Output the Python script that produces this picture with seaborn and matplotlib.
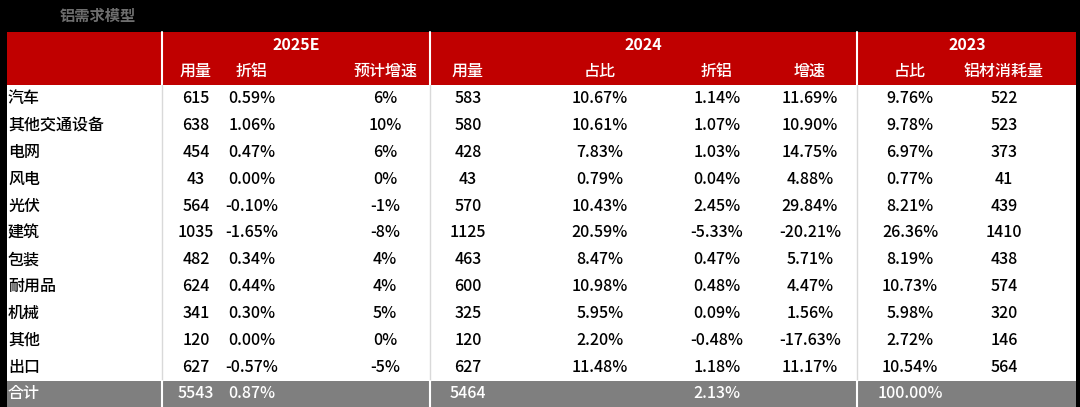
import matplotlib
matplotlib.use("Agg")
import matplotlib.pyplot as plt
from matplotlib import font_manager as fm
from matplotlib.patches import Rectangle
import seaborn as sns

cjk = sorted({f.name for f in fm.fontManager.ttflist if "CJK" in f.name})
fams = ["Noto Sans CJK SC"] + cjk + ["DejaVu Sans"]
sns.set_theme(style="white")
plt.rcParams["font.family"] = "sans-serif"
plt.rcParams["font.sans-serif"] = fams
plt.rcParams["axes.unicode_minus"] = False

title = "铝需求模型"
groups = ["2025E", "2024", "2023"]
sub_headers = ["用量", "折铝", "预计增速", "用量", "占比", "折铝", "增速", "占比", "铝材消耗量"]
categories = ["汽车", "其他交通设备", "电网", "风电", "光伏", "建筑", "包装", "耐用品", "机械", "其他", "出口"]
use_2025 = ["615", "638", "454", "43", "564", "1035", "482", "624", "341", "120", "627"]
zl_2025 = ["0.59%", "1.06%", "0.47%", "0.00%", "-0.10%", "-1.65%", "0.34%", "0.44%", "0.30%", "0.00%", "-0.57%"]
growth_2025 = ["6%", "10%", "6%", "0%", "-1%", "-8%", "4%", "4%", "5%", "0%", "-5%"]
use_2024 = ["583", "580", "428", "43", "570", "1125", "463", "600", "325", "120", "627"]
share_2024 = ["10.67%", "10.61%", "7.83%", "0.79%", "10.43%", "20.59%", "8.47%", "10.98%", "5.95%", "2.20%", "11.48%"]
zl_2024 = ["1.14%", "1.07%", "1.03%", "0.04%", "2.45%", "-5.33%", "0.47%", "0.48%", "0.09%", "-0.48%", "1.18%"]
growth_2024 = ["11.69%", "10.90%", "14.75%", "4.88%", "29.84%", "-20.21%", "5.71%", "4.47%", "1.56%", "-17.63%", "11.17%"]
share_2023 = ["9.76%", "9.78%", "6.97%", "0.77%", "8.21%", "26.36%", "8.19%", "10.73%", "5.98%", "2.72%", "10.54%"]
cons_2023 = ["522", "523", "373", "41", "439", "1410", "438", "574", "320", "146", "564"]
total_label = "合计"
total_row = ["5543", "0.87%", "", "5464", "", "2.13%", "", "100.00%", ""]

W, H = 1080, 407
fig = plt.figure(figsize=(W / 100, H / 100), dpi=100, facecolor="black")
ax = fig.add_axes([0, 0, 1, 1])
ax.set_xlim(0, W)
ax.set_ylim(H, 0)
ax.axis("off")
ax.set_facecolor("black")

red = "#c00000"
L, R = 7, 1076
hdr_top, body_top = 32, 85
row_h = 26.9
total_top = body_top + row_h * 11
fs = 11.5
fw = 500

ax.text(60, 16, title, color="#6e6e6e", fontsize=11, fontweight="bold", va="center")
ax.add_patch(Rectangle((L, hdr_top), R - L, body_top - hdr_top, color=red, lw=0))
ax.add_patch(Rectangle((L, body_top), R - L, total_top - body_top, color="white", lw=0))
ax.add_patch(Rectangle((L, total_top), R - L, H - total_top, color="#7f7f7f", lw=0))

seps = [162, 430, 857]
for x in seps:
    ax.plot([x, x], [hdr_top, body_top], color="white", lw=1.5)
    ax.plot([x, x], [body_top, total_top], color="#d9d9d9", lw=1)
    ax.plot([x, x], [total_top, H], color="white", lw=1.5)

group_x = [296, 643, 967]
for g, gx in zip(groups, group_x):
    ax.text(gx, 45, g, color="white", fontsize=fs, fontweight="bold", ha="center", va="center")

col_x = [196, 252, 385, 468, 600, 717, 810, 910, 1004]
for h, cx in zip(sub_headers, col_x):
    ax.text(cx, 71.5, h, color="white", fontsize=fs, fontweight=fw, ha="center", va="center")

cols = [use_2025, zl_2025, growth_2025, use_2024, share_2024, zl_2024, growth_2024, share_2023, cons_2023]
for i, cat in enumerate(categories):
    y = body_top + row_h * (i + 0.5)
    ax.text(8, y, cat, color="black", fontsize=fs, fontweight=fw, va="center")
    for col, cx in zip(cols, col_x):
        ax.text(cx, y, col[i], color="black", fontsize=fs, fontweight=fw, ha="center", va="center")

yt = (total_top + H) / 2
ax.text(8, yt, total_label, color="white", fontsize=fs, fontweight=fw, va="center")
for v, cx in zip(total_row, col_x):
    ax.text(cx, yt, v, color="white", fontsize=fs, fontweight=fw, ha="center", va="center")

fig.savefig("out.png", dpi=100, facecolor="black")
